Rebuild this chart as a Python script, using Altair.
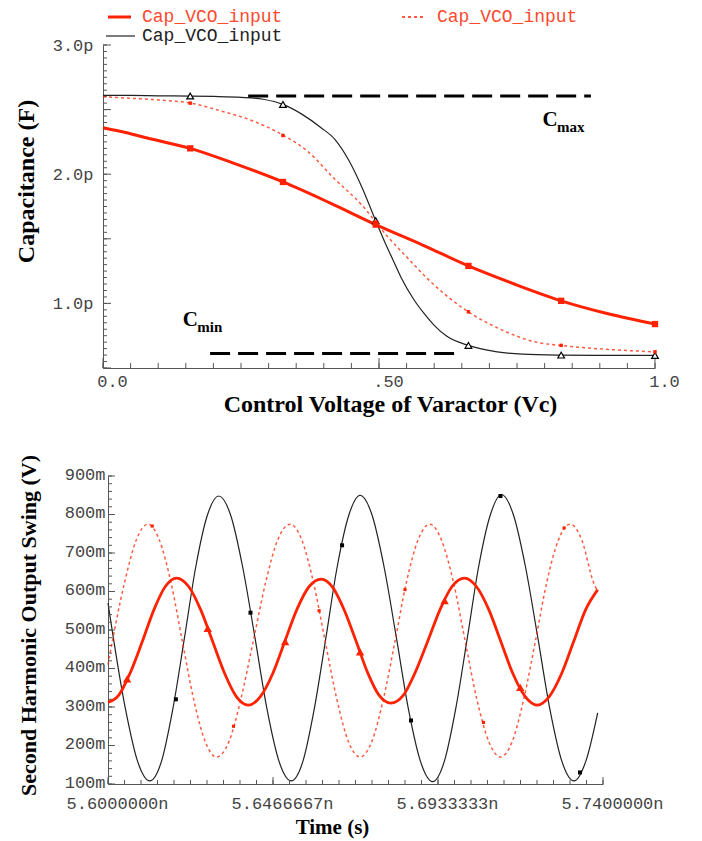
import altair as alt
import pandas as pd

# ---------------- Top chart: capacitance vs control voltage ----------------
vc_black = [0.0, 0.05, 0.10, 0.158, 0.20, 0.25, 0.29, 0.326, 0.36, 0.395, 0.42, 0.445, 0.47, 0.494,
            0.51, 0.526, 0.54, 0.563, 0.582, 0.60, 0.623, 0.662, 0.714, 0.76, 0.83, 0.90, 1.0]
cap_black = [2.61, 2.61, 2.607, 2.605, 2.602, 2.595, 2.58, 2.54, 2.465, 2.36, 2.27, 2.11, 1.89, 1.64,
             1.48, 1.33, 1.20, 1.03, 0.92, 0.83, 0.745, 0.675, 0.625, 0.607, 0.600, 0.598, 0.597]

vc_red = [0.0, 0.033, 0.08, 0.158, 0.24, 0.326, 0.41, 0.494, 0.58, 0.662, 0.745, 0.83, 0.915, 1.0]
cap_red = [2.36, 2.33, 2.28, 2.20, 2.08, 1.94, 1.78, 1.61, 1.45, 1.29, 1.15, 1.02, 0.92, 0.84]

vc_dot = [0.0, 0.04, 0.10, 0.159, 0.213, 0.273, 0.327, 0.37, 0.418, 0.467, 0.515, 0.55, 0.593,
          0.66, 0.72, 0.78, 0.84, 0.93, 1.0]
cap_dot = [2.60, 2.59, 2.575, 2.55, 2.49, 2.41, 2.30, 2.18, 1.97, 1.77, 1.52, 1.36, 1.17,
           0.94, 0.80, 0.705, 0.67, 0.64, 0.625]

mk_vc = [0.158, 0.326, 0.494, 0.662, 0.83, 1.0]
mk_black = [2.605, 2.54, 1.64, 0.675, 0.600, 0.597]
mk_red = [2.20, 1.94, 1.61, 1.29, 1.02, 0.84]
mk_dot = [2.55, 2.30, 1.63, 0.935, 0.675, 0.625]

# dashed Cmax / Cmin guides
guide_x1 = [0.263, 0.194]
guide_x2 = [0.884, 0.639]
guide_y = [2.605, 0.612]
ann_main = ["C", "C"]
ann_sub = ["max", "min"]
ann_x = [0.81, 0.158]
ann_y = [2.42, 0.87]

top_x_labels = [0.0, 0.5, 1.0]
top_x_minor = [round(i * 0.05, 2) for i in range(21)]
top_y_labels = [1.0, 2.0, 3.0]
top_y_major = [0.5, 1.0, 1.5, 2.0, 2.5, 3.0]
top_y_minor = [round(0.5 + i * 0.05, 2) for i in range(51)]

# ---------------- Bottom chart: second harmonic output ----------------
t_black = [5.6000, 5.6050, 5.6084, 5.6118, 5.6151, 5.6183, 5.6216, 5.6248, 5.6281, 5.6313,
           5.6347, 5.6381, 5.6416, 5.6450, 5.6484, 5.6518, 5.6551, 5.6583, 5.6616, 5.6648,
           5.6681, 5.6713, 5.6747, 5.6781, 5.6816, 5.6850, 5.6884, 5.6918, 5.6951, 5.6983,
           5.7016, 5.7048, 5.7081, 5.7113, 5.7147, 5.7181, 5.7216, 5.7250, 5.7284, 5.7318,
           5.7351, 5.7385]
v_black = [570, 292, 158, 108, 158, 293, 478, 663, 798, 848,
           798, 663, 478, 293, 158, 108, 158, 293, 478, 663,
           798, 850, 798, 663, 478, 293, 158, 106, 158, 293,
           478, 663, 798, 852, 798, 663, 478, 293, 158, 108,
           158, 285]

t_red = [5.6000, 5.6030, 5.6062, 5.6097, 5.6130, 5.6162, 5.6194, 5.6228, 5.6262, 5.6296,
         5.6330, 5.6363, 5.6397, 5.6431, 5.6466, 5.6500, 5.6534, 5.6569, 5.6603, 5.6636,
         5.6669, 5.6702, 5.6734, 5.6767, 5.6800, 5.6835, 5.6869, 5.6904, 5.6939, 5.6973,
         5.7008, 5.7042, 5.7077, 5.7111, 5.7145, 5.7180, 5.7214, 5.7248, 5.7283, 5.7317,
         5.7351, 5.7385]
v_red = [312, 330, 387, 470, 553, 613, 635, 613, 553, 470,
         387, 327, 305, 327, 387, 470, 553, 613, 632, 610,
         550, 470, 390, 330, 310, 330, 390, 470, 553, 613,
         635, 613, 553, 470, 387, 327, 305, 327, 387, 470,
         553, 605]

t_dot = [5.6000, 5.6047, 5.6080, 5.6113, 5.6145, 5.6178, 5.6210, 5.6242, 5.6275, 5.6307,
         5.6342, 5.6376, 5.6411, 5.6446, 5.6480, 5.6515, 5.6548, 5.6581, 5.6614, 5.6647,
         5.6680, 5.6713, 5.6746, 5.6779, 5.6812, 5.6844, 5.6877, 5.6910, 5.6943, 5.6977,
         5.7010, 5.7043, 5.7077, 5.7110, 5.7143, 5.7176, 5.7209, 5.7241, 5.7274, 5.7307,
         5.7340, 5.7373, 5.7385]
v_dot = [410, 624, 734, 775, 734, 624, 472, 321, 210, 170,
         210, 321, 472, 624, 734, 775, 734, 624, 472, 321,
         210, 170, 210, 321, 472, 624, 734, 775, 734, 624,
         472, 321, 210, 170, 210, 321, 472, 624, 734, 775,
         734, 624, 600]

mk_t_black = [5.6192, 5.6403, 5.6662, 5.6857, 5.7110, 5.7335]
mk_v_black = [320, 545, 720, 265, 848, 130]
mk_t_red = [5.6054, 5.6282, 5.6501, 5.6713, 5.6952, 5.7166]
mk_v_red = [373, 504, 470, 443, 576, 351]
mk_t_dot = [5.6125, 5.6355, 5.6597, 5.6840, 5.7062, 5.7290]
mk_v_dot = [770, 250, 550, 605, 260, 765]

bot_x_labels = [5.6, 5.6466667, 5.6933333, 5.74]
bot_x_minor = [round(5.6 + i * 0.14 / 30, 7) for i in range(31)]
bot_y_labels = [100, 200, 300, 400, 500, 600, 700, 800, 900]
bot_y_minor = [100 + i * 20 for i in range(41)]

legend_labels = ["Cap_VCO_input", "Cap_VCO_input", "Cap_VCO_input"]

# ---------------- styles ----------------
RED = "#ff2200"
RED_TXT = "#ff4a2e"
BLACK = "#222222"
LABEL_FONT = "Liberation Mono"
TITLE_FONT = "Liberation Serif"
AX = "#555555"


def make_df(**cols):
    return pd.DataFrame(cols)


def x_ticks(values, scale, height, size):
    return alt.Chart(make_df(v=values)).mark_rule(color=AX, strokeWidth=1).encode(
        x=alt.X("v:Q", scale=scale, axis=None), y=alt.value(height), y2=alt.value(height - size))


def y_ticks(values, scale, x0, size):
    return alt.Chart(make_df(v=values)).mark_rule(color=AX, strokeWidth=1).encode(
        y=alt.Y("v:Q", scale=scale, axis=None), x=alt.value(x0), x2=alt.value(x0 + size))


# ================= TOP CHART =================
W1, H1 = 552, 323
xs1 = alt.Scale(domain=[0, 1], nice=False, zero=False)
ys1 = alt.Scale(domain=[0.5, 3.0], nice=False, zero=False)

df_b = make_df(vc=vc_black, cap=cap_black)
df_r = make_df(vc=vc_red, cap=cap_red)
df_d = make_df(vc=vc_dot, cap=cap_dot)
df_mk = make_df(vc=mk_vc, b=mk_black, r=mk_red, d=mk_dot)
df_g = make_df(x1=guide_x1, x2=guide_x2, y=guide_y)
df_ann = make_df(x=ann_x, y=ann_y, main=ann_main, sub=ann_sub)

x_lab1 = alt.Axis(orient="bottom", values=top_x_labels,
                  labelExpr="datum.value == 0.5 ? '.50' : format(datum.value, '.1f')",
                  ticks=False, tickSize=0, domain=True, domainColor=AX, labelPadding=5, labelOffset=9,
                  labelFlush=False, labelOverlap=False,
                  title="Control Voltage of Varactor (Vc)", titleFontSize=24,
                  titleX=287, titleY=36, titleAlign="center", titleBaseline="middle")
y_lab1 = alt.Axis(orient="left", values=top_y_labels,
                  labelExpr="format(datum.value, '.1f') + 'p'",
                  ticks=False, tickSize=0, domain=True, domainColor=AX, labelPadding=10,
                  labelFlush=False, labelOverlap=False,
                  title="Capacitance (F)", titleFontSize=24, titleAngle=270,
                  titleX=-77, titleY=136, titleAlign="center", titleBaseline="middle")

top_layers = [
    alt.Chart(df_b).mark_line(color=BLACK, strokeWidth=1.2, interpolate="monotone").encode(
        x=alt.X("vc:Q", scale=xs1, axis=x_lab1), y=alt.Y("cap:Q", scale=ys1, axis=y_lab1)),
    x_ticks(top_x_labels, xs1, H1, 10),
    x_ticks(top_x_minor, xs1, H1, 5),
    y_ticks(top_y_major, ys1, 0, 8),
    y_ticks(top_y_minor, ys1, 0, 4),
    alt.Chart(df_d).mark_line(color=RED, strokeWidth=1.5, strokeDash=[3, 3], opacity=0.75,
                              interpolate="monotone").encode(
        x=alt.X("vc:Q", scale=xs1, axis=None), y=alt.Y("cap:Q", scale=ys1, axis=None)),
    alt.Chart(df_r).mark_line(color=RED, strokeWidth=3, interpolate="monotone").encode(
        x=alt.X("vc:Q", scale=xs1, axis=None), y=alt.Y("cap:Q", scale=ys1, axis=None)),
    alt.Chart(df_g).mark_rule(color="black", strokeWidth=3, strokeDash=[20, 8]).encode(
        x=alt.X("x1:Q", scale=xs1, axis=None), x2="x2:Q", y=alt.Y("y:Q", scale=ys1, axis=None)),
    alt.Chart(df_mk).mark_point(shape="triangle-up", filled=True, fill="white", stroke="black",
                                strokeWidth=1.2, size=45, opacity=1).encode(
        x=alt.X("vc:Q", scale=xs1, axis=None), y=alt.Y("b:Q", scale=ys1, axis=None)),
    alt.Chart(df_mk).mark_point(shape="square", filled=True, color=RED, size=40, opacity=1).encode(
        x=alt.X("vc:Q", scale=xs1, axis=None), y=alt.Y("r:Q", scale=ys1, axis=None)),
    alt.Chart(df_mk).mark_point(shape="square", filled=True, color=RED, size=12, opacity=1).encode(
        x=alt.X("vc:Q", scale=xs1, axis=None), y=alt.Y("d:Q", scale=ys1, axis=None)),
    alt.Chart(df_ann).mark_text(font=TITLE_FONT, fontWeight="bold", fontSize=21, align="center",
                                baseline="middle", color="black").encode(
        x=alt.X("x:Q", scale=xs1, axis=None), y=alt.Y("y:Q", scale=ys1, axis=None), text="main:N"),
    alt.Chart(df_ann).mark_text(font=TITLE_FONT, fontWeight="bold", fontSize=15, align="left",
                                baseline="middle", color="black", dx=7, dy=7).encode(
        x=alt.X("x:Q", scale=xs1, axis=None), y=alt.Y("y:Q", scale=ys1, axis=None), text="sub:N"),
]

# custom legend (above the top plot)
leg_df = make_df(label=legend_labels)
leg_items = [
    # (row index, line x1, line x2, line y, text x, line colour, width, dash, text colour)
    (0, 5, 28, -28, 39, RED, 3, None, RED_TXT),
    (1, 299, 323, -28, 334, RED, 1.5, [3, 3], RED_TXT),
    (2, 3, 32, -9, 39, BLACK, 1.2, None, BLACK),
]
for i, x1, x2, yy, tx, col, wid, dash, tcol in leg_items:
    kw = dict(color=col, strokeWidth=wid)
    if dash:
        kw["strokeDash"] = dash
    sub = leg_df.iloc[[i]]
    top_layers.append(alt.Chart(sub).mark_rule(**kw).encode(
        x=alt.value(x1), x2=alt.value(x2), y=alt.value(yy)))
    top_layers.append(alt.Chart(sub).mark_text(font=LABEL_FONT, fontSize=18, align="left",
                                               baseline="middle", color=tcol).encode(
        x=alt.value(tx), y=alt.value(yy), text="label:N"))

top = alt.layer(*top_layers).properties(width=W1, height=H1).resolve_axis(
    x="independent", y="independent")

# ================= BOTTOM CHART =================
W2, H2 = 500, 308
X0 = 5
xs2 = alt.Scale(domain=[5.6, 5.74], range=[X0, W2], nice=False, zero=False)
ys2 = alt.Scale(domain=[100, 900], nice=False, zero=False)

df_tb = make_df(t=t_black, v=v_black)
df_tr = make_df(t=t_red, v=v_red)
df_td = make_df(t=t_dot, v=v_dot)
df_mb = make_df(t=mk_t_black, v=mk_v_black)
df_mr = make_df(t=mk_t_red, v=mk_v_red)
df_md = make_df(t=mk_t_dot, v=mk_v_dot)

x_lab2 = alt.Axis(orient="bottom", values=bot_x_labels,
                  labelExpr="format(datum.value, '.7f') + 'n'",
                  ticks=False, tickSize=0, domain=True, domainColor=AX, labelPadding=11, labelOffset=9,
                  labelFlush=False, labelOverlap=False,
                  title="Time (s)", titleFontSize=21, titleX=229, titleY=43,
                  titleAlign="center", titleBaseline="middle")
y_lab2 = alt.Axis(orient="left", values=bot_y_labels,
                  labelExpr="format(datum.value, 'd') + 'm'",
                  ticks=False, tickSize=0, domain=True, domainColor=AX, labelPadding=3, offset=-X0,
                  labelFlush=False, labelOverlap=False, labelOffset=-2,
                  title="Second Harmonic Output Swing (V)", titleFontSize=22, titleAngle=270,
                  titleX=-80, titleY=149, titleAlign="center", titleBaseline="middle")

bottom_layers = [
    alt.Chart(df_tb).mark_line(color=BLACK, strokeWidth=1.2, interpolate="monotone").encode(
        x=alt.X("t:Q", scale=xs2, axis=x_lab2), y=alt.Y("v:Q", scale=ys2, axis=y_lab2)),
    x_ticks(bot_x_labels, xs2, H2, 7),
    x_ticks(bot_x_minor, xs2, H2, 4),
    y_ticks(bot_y_labels, ys2, X0, 7),
    y_ticks(bot_y_minor, ys2, X0, 4),
    alt.Chart(df_td).mark_line(color=RED, strokeWidth=1.5, strokeDash=[3, 3], opacity=0.75,
                               interpolate="monotone").encode(
        x=alt.X("t:Q", scale=xs2, axis=None), y=alt.Y("v:Q", scale=ys2, axis=None)),
    alt.Chart(df_tr).mark_line(color=RED, strokeWidth=2.8, interpolate="monotone").encode(
        x=alt.X("t:Q", scale=xs2, axis=None), y=alt.Y("v:Q", scale=ys2, axis=None)),
    alt.Chart(df_mb).mark_point(shape="square", filled=True, color="black", size=16, opacity=1).encode(
        x=alt.X("t:Q", scale=xs2, axis=None), y=alt.Y("v:Q", scale=ys2, axis=None)),
    alt.Chart(df_mr).mark_point(shape="triangle-up", filled=True, color=RED, size=70, opacity=1).encode(
        x=alt.X("t:Q", scale=xs2, axis=None), y=alt.Y("v:Q", scale=ys2, axis=None)),
    alt.Chart(df_md).mark_point(shape="square", filled=True, color=RED, size=10, opacity=1).encode(
        x=alt.X("t:Q", scale=xs2, axis=None), y=alt.Y("v:Q", scale=ys2, axis=None)),
]

bottom = alt.layer(*bottom_layers).properties(width=W2, height=H2).resolve_axis(
    x="independent", y="independent")

chart = alt.vconcat(top, bottom, spacing=108, bounds="flush").properties(
    padding={"left": 6, "top": 0, "right": 10, "bottom": 5},
    background="white",
).configure_view(stroke=None).configure_axis(
    grid=False,
    labelFont=LABEL_FONT, labelFontSize=17, labelColor="#444444",
    titleFont=TITLE_FONT, titleFontWeight="bold", titleColor="black",
)

chart.save("out.html", embed_options={"renderer": "svg", "actions": False})
